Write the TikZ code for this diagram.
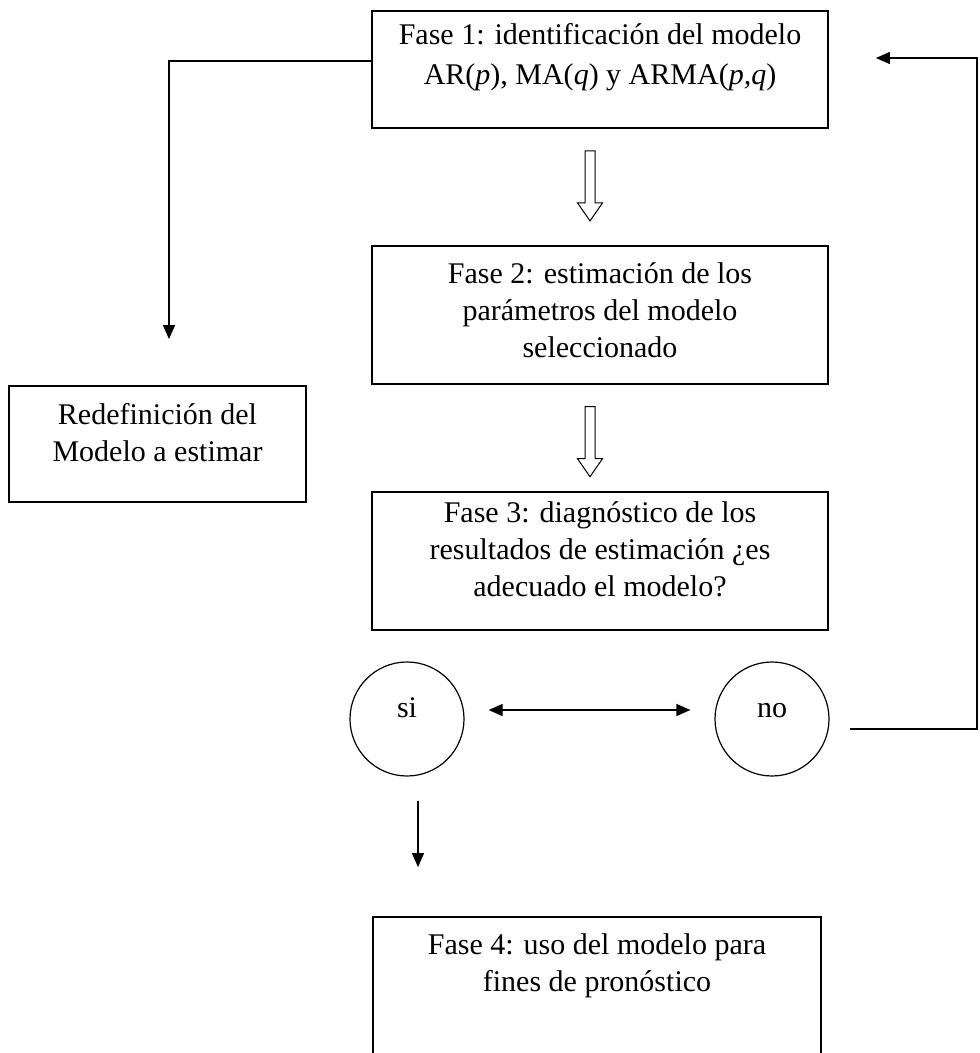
\documentclass[tikz,border=0pt]{standalone}
\usepackage{fontspec}
\setmainfont{Liberation Serif}
\usetikzlibrary{positioning,arrows.meta,calc}

\begin{document}
\begin{tikzpicture}[
  x=0.5pt, y=-0.5pt,
  node distance=5mm,
  fase/.style={draw, line width=0.9pt, minimum width=228pt, minimum height=69pt, inner sep=0pt},
  txt/.style={align=center, inner sep=0pt, font=\fontsize{15}{18.5}\selectfont},
  dec/.style={circle, draw, line width=0.6pt, minimum size=57pt, inner sep=0pt,
              text height=8pt, text depth=10pt, font=\fontsize{15}{18.5}\selectfont},
  ar/.style={-{Triangle[length=7pt,width=6pt]}, line width=0.8pt},
  dar/.style={{Triangle[length=7pt,width=6pt]}-{Triangle[length=7pt,width=6pt]}, line width=0.7pt},
  hol/.style={draw, line width=0.5pt, fill=white}
]
\clip (0,0) rectangle (979,1053);

% cajas
\node[fase, minimum height=58.5pt] (f1) at (600,69.5) {};
\node[fase, below=58pt of f1] (f2) {};
\node[fase, below=53pt of f2] (f3) {};
\node[fase, minimum width=224pt, minimum height=100pt] (f4) at (597,1017) {};
\node[fase, minimum width=148.5pt, minimum height=58pt] (rd) at (157.5,444) {};

% textos
\node[txt, below=6.5pt of f1.north] (t1) {Fase 1: identificación del modelo\\[1.5pt]
  AR(\textit{p}), MA(\textit{q}) y ARMA(\textit{p,q})};
\node[txt, below=8.5pt of f2.north] (t2) {Fase 2: estimación de los\\parámetros del modelo\\seleccionado};
\node[txt, below=5.5pt of f3.north] (t3) {Fase 3: diagnóstico de los\\resultados de estimación ¿es\\adecuado el modelo?};
\node[txt, below=8.5pt of f4.north] (t4) {Fase 4: uso del modelo para\\fines de pronóstico};
\node[txt, below=9pt of rd.north] (trd) {Redefinición del\\Modelo a estimar};

% decision
\node[dec] (si) at (407,719) {si};
\node[dec] (no) at (772,719) {no};

% flechas huecas
\foreach \a in {f1,f2}
  \draw[hol] ([xshift=-5pt,yshift=-11pt]\a.south) ++(-5,0) -- ++(0,52) -- ++(-7.5,0)
    -- ++(12.5,18) -- ++(12.5,-18) -- ++(-7.5,0) -- ++(0,-52) -- cycle;

% conexiones
\coordinate (f1out) at ([yshift=4.25pt]f1.west);
\coordinate (f1in) at ([yshift=5.75pt]f1.east);
\coordinate (noout) at ([yshift=-5pt]no.east);
\coordinate (siout) at ([xshift=5.5pt]si.south);
\coordinate (rail) at (977,0);
\draw[ar, shorten >=23pt] (f1out) -| ([xshift=5.75pt]rd.north);
\draw[ar, shorten <=10pt, shorten >=23.5pt] (noout) -| (rail |- f1in) -- (f1in);
\draw[dar, shorten <=12pt, shorten >=12pt] ([yshift=4.5pt]si.east) -- ([yshift=4.5pt]no.west);
\draw[ar, line width=0.6pt, shorten <=12pt, shorten >=24.5pt] (siout) -- (siout |- f4.north);
\end{tikzpicture}
\end{document}
